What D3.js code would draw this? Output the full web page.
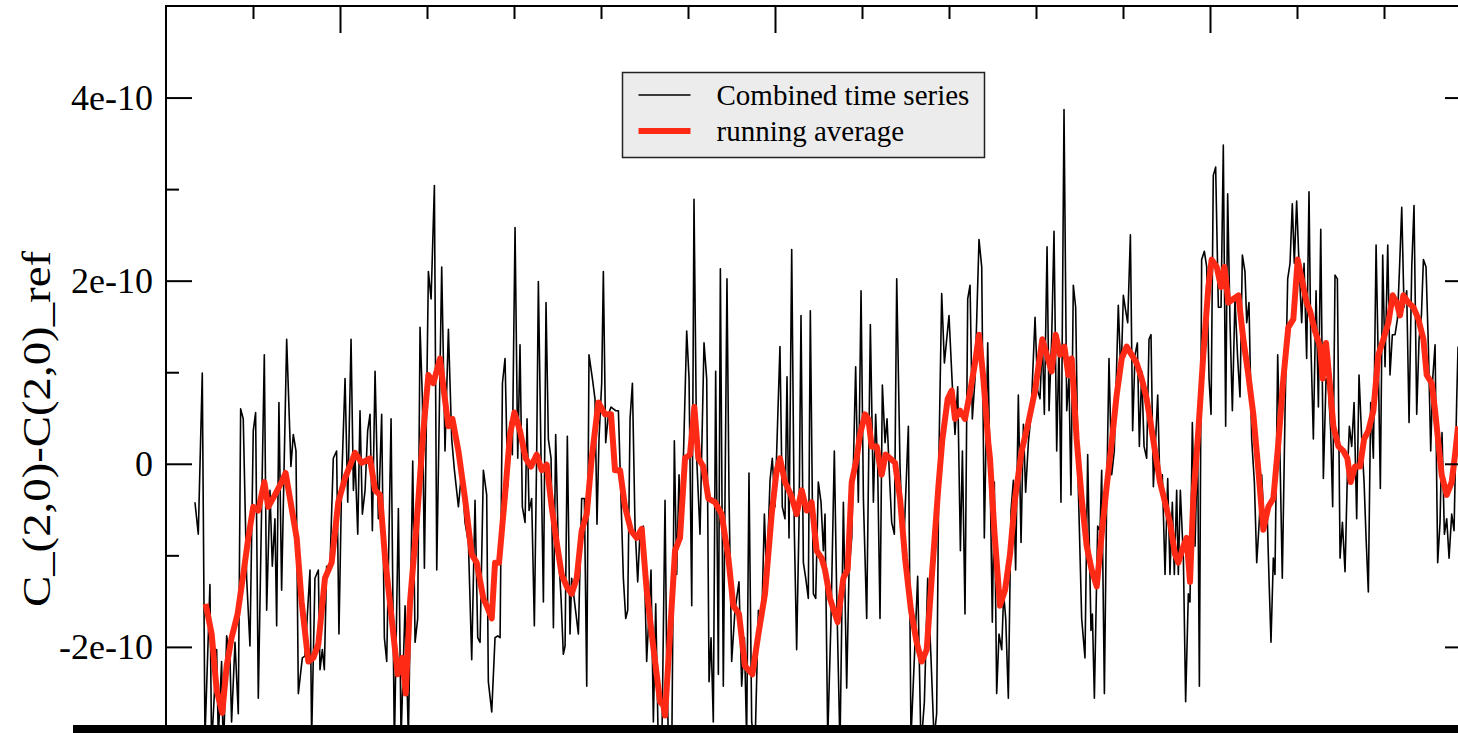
<!DOCTYPE html>
<html>
<head>
<meta charset="utf-8">
<script src="https://cdn.jsdelivr.net/npm/d3@7"></script>
<style>
  html, body { margin: 0; padding: 0; background: #fff; overflow: hidden; }
  svg { display: block; }
</style>
</head>
<body>
<svg id="chart"></svg>
<script>
const width = 1458, height = 733;
const unit = 1e-10; // values below are in units of 1e-10

// combined time series (decimal year, value)
const combinedTime = [
  1998.333, 1998.371, 1998.417, 1998.448, 1998.505, 1998.524, 1998.582, 1998.601, 1998.639, 1998.659,
  1998.697, 1998.735, 1998.754, 1998.793, 1998.831, 1998.858, 1998.888, 1998.927, 1998.965, 1999.003,
  1999.030, 1999.061, 1999.130, 1999.157, 1999.195, 1999.222, 1999.252, 1999.272, 1999.298, 1999.329,
  1999.387, 1999.436, 1999.463, 1999.494, 1999.521, 1999.567, 1999.597, 1999.655, 1999.674, 1999.712,
  1999.751, 1999.770, 1999.797, 1999.820, 1999.846, 1999.885, 1999.923, 1999.961, 1999.988, 2000.019,
  2000.058, 2000.089, 2000.127, 2000.154, 2000.173, 2000.204, 2000.230, 2000.257, 2000.288, 2000.318,
  2000.345, 2000.372, 2000.403, 2000.441, 2000.479, 2000.510, 2000.537, 2000.587, 2000.625, 2000.671,
  2000.702, 2000.748, 2000.786, 2000.836, 2000.863, 2000.893, 2000.920, 2000.947, 2000.970, 2001.016,
  2001.047, 2001.085, 2001.112, 2001.169, 2001.207, 2001.246, 2001.284, 2001.315, 2001.361, 2001.399,
  2001.437, 2001.476, 2001.514, 2001.552, 2001.583, 2001.610, 2001.648, 2001.686, 2001.705, 2001.744,
  2001.782, 2001.813, 2001.840, 2001.867,
  2001.897, 2001.928, 2001.954, 2001.981, 2002.012, 2002.043, 2002.069, 2002.096, 2002.127, 2002.150,
  2002.173, 2002.203, 2002.234, 2002.261, 2002.280, 2002.311, 2002.338, 2002.368, 2002.395, 2002.426,
  2002.453, 2002.479, 2002.510, 2002.541, 2002.567, 2002.587, 2002.613, 2002.644, 2002.663, 2002.701,
  2002.740, 2002.778, 2002.809, 2002.836, 2002.862, 2002.901, 2002.931, 2002.954, 2002.977, 2003.008,
  2003.027, 2003.054, 2003.085, 2003.115, 2003.142, 2003.169, 2003.200, 2003.230, 2003.257, 2003.284,
  2003.307, 2003.334, 2003.361, 2003.391, 2003.422, 2003.449, 2003.487, 2003.525, 2003.575, 2003.602,
  2003.629, 2003.659, 2003.698,
  2003.736, 2003.755, 2003.774, 2003.813, 2003.843, 2003.870, 2003.897, 2003.920, 2003.947, 2003.985,
  2004.012, 2004.043, 2004.069, 2004.100, 2004.138, 2004.184, 2004.215, 2004.242, 2004.265, 2004.291,
  2004.318, 2004.349, 2004.372, 2004.406, 2004.448, 2004.472, 2004.502, 2004.540, 2004.586, 2004.617,
  2004.648, 2004.674, 2004.701, 2004.732, 2004.770, 2004.809, 2004.847, 2004.878, 2004.904, 2004.943,
  2004.969, 2005.000, 2005.031, 2005.057, 2005.084, 2005.115, 2005.138, 2005.161, 2005.192, 2005.222,
  2005.249, 2005.276, 2005.299, 2005.326, 2005.353, 2005.383, 2005.406, 2005.441, 2005.468, 2005.498,
  2005.529, 2005.556,
  2005.575, 2005.606, 2005.644, 2005.682, 2005.709, 2005.747, 2005.786, 2005.824, 2005.851, 2005.882,
  2005.927, 2005.958, 2005.989, 2006.016, 2006.054, 2006.096, 2006.131, 2006.157, 2006.180, 2006.207,
  2006.234, 2006.265, 2006.288, 2006.311, 2006.341, 2006.372, 2006.399, 2006.437, 2006.475, 2006.533,
  2006.563, 2006.602, 2006.640, 2006.678, 2006.717, 2006.755, 2006.793, 2006.828, 2006.858, 2006.885,
  2006.916, 2006.947, 2007.000, 2007.039, 2007.069, 2007.100, 2007.131, 2007.154, 2007.184, 2007.215,
  2007.242, 2007.268, 2007.299, 2007.345, 2007.376, 2007.406,
  2007.445, 2007.471, 2007.498, 2007.521, 2007.548, 2007.575, 2007.606, 2007.628, 2007.652, 2007.682,
  2007.713, 2007.740, 2007.766, 2007.797, 2007.828, 2007.855, 2007.881, 2007.912, 2007.943, 2007.989,
  2008.019, 2008.046, 2008.073, 2008.096, 2008.127, 2008.150, 2008.180, 2008.207, 2008.238, 2008.264,
  2008.287, 2008.322, 2008.353, 2008.379, 2008.402, 2008.429, 2008.456, 2008.487, 2008.525, 2008.563,
  2008.594, 2008.632, 2008.648, 2008.671, 2008.709, 2008.736, 2008.755, 2008.786, 2008.812, 2008.839,
  2008.870, 2008.900, 2008.946, 2008.977, 2009.004, 2009.031, 2009.054, 2009.085, 2009.111, 2009.138,
  2009.165, 2009.188, 2009.215, 2009.242, 2009.272, 2009.299,
  2009.322, 2009.349, 2009.399, 2009.425, 2009.452, 2009.483, 2009.514, 2009.540, 2009.567, 2009.590,
  2009.617, 2009.636, 2009.659, 2009.694, 2009.720, 2009.751, 2009.770, 2009.797, 2009.828, 2009.858,
  2009.878, 2009.904, 2009.935, 2009.962, 2009.989, 2010.012, 2010.038, 2010.065, 2010.096, 2010.127,
  2010.153, 2010.180, 2010.203, 2010.230, 2010.257, 2010.287, 2010.318, 2010.345, 2010.372, 2010.402,
  2010.422, 2010.448, 2010.479, 2010.510, 2010.537, 2010.563, 2010.594, 2010.625, 2010.655, 2010.678,
  2010.701, 2010.728, 2010.747, 2010.778, 2010.805, 2010.831, 2010.862, 2010.893, 2010.920, 2010.946,
  2010.969, 2010.996, 2011.023, 2011.054, 2011.081, 2011.111, 2011.138,
  2011.158, 2011.188, 2011.219, 2011.246, 2011.273, 2011.303, 2011.334, 2011.361, 2011.387, 2011.410,
  2011.437, 2011.464, 2011.495, 2011.522, 2011.552, 2011.579, 2011.602, 2011.629, 2011.656, 2011.686,
  2011.713, 2011.744, 2011.771, 2011.794, 2011.820, 2011.847, 2011.878, 2011.909, 2011.935, 2011.958,
  2011.985, 2012.012, 2012.043, 2012.069, 2012.096, 2012.127, 2012.154, 2012.177, 2012.204, 2012.230,
  2012.261, 2012.288, 2012.319, 2012.345, 2012.376, 2012.403, 2012.430, 2012.453, 2012.483, 2012.510,
  2012.537, 2012.560, 2012.587, 2012.617, 2012.644, 2012.667, 2012.694, 2012.721, 2012.748, 2012.778,
  2012.805, 2012.836, 2012.851
];
const combinedValue = [
  -0.42, -0.77, 0.99, -3.0, -1.32, -3.1, -2.03, -3.0, -2.16, -3.2,
  -1.88, -2.12, -2.82, -1.95, -2.73, 0.60, 0.49, -1.25, -1.99, 0.36,
  0.56, -2.56, 1.19, -1.60, -0.29, -1.12, -0.60, -1.77, 0.67, -1.38,
  1.36, -0.03, 0.32, 0.14, -2.51, -2.12, -2.10, -1.16, -3.0, -1.25,
  -1.16, -2.25, -2.03, -2.25, -1.12, -1.12, 0.06, 0.14, -1.86, -0.20,
  0.93, -0.42, 1.36, -0.29, 0.06, -0.77, 0.58, -0.55, -0.29, 0.36,
  0.54, -0.73, 1.01, -0.60, 0.54, -1.90, -2.16, 0.49, -3.1, -0.49,
  -3.0, -1.55, -3.0, 0.03, -1.95, -1.69, 1.49, 0.71, -1.14, 2.10,
  1.80, 3.04, -1.16, 2.15, 0.14, 1.47, 0.27, -0.07, -0.47, -0.07,
  -0.64, -0.86, -2.14, -0.40, -1.90, -1.95, -0.07, -0.34, -2.38, -2.71,
  -1.90, -1.88, -1.90, 0.88,
  1.15, -0.25, 0.45, 0.10, 2.58, 0.06, 1.30, -0.47, -0.64, 0.49,
  -0.51, -0.38, -1.77, 0.14, 1.99, 0.06, -1.51, 1.76, 0.27, 0.06,
  -1.79, 0.32, -0.95, -1.47, -2.08, -1.99, 0.30, -1.86, -1.25, -1.55,
  -1.86, -0.38, -0.38, -2.43, 1.19, 0.93, 0.71, -0.66, 0.27, 0.88,
  2.10, 0.23, 0.54, 0.62, 0.60, 0.58, 0.58, -0.38, -1.25, -1.69,
  -1.60, 0.49, 0.88, -0.68, -1.29, -0.73, -0.68, -2.16, -1.16, -2.82,
  -1.53, -3.1, -3.2,
  -0.40, -2.12, -3.0, -3.2, 0.25, -1.21, -0.12, -0.81, 0.06, 1.45,
  0.93, -1.55, 2.89, 0.06, -0.77, 1.32, 0.93, -2.38, -1.90, -2.82,
  1.01, -2.30, 2.13, -2.43, 2.02, -0.38, -2.16, -1.60, -1.29, -2.43,
  -1.90, -3.0, -0.10, -2.82, -3.1, -1.60, -1.73, -0.55, -1.25, -0.18,
  0.06, -0.47, 0.49, 1.28, -0.47, -0.60, 0.95, -0.81, 2.34, -0.73,
  -2.03, -0.64, 1.62, -1.08, -1.25, -1.47, 1.67, -1.42, -1.47, -0.20,
  -0.42, -0.95,
  -0.55, -3.0, -1.69, 0.14, -1.42, -3.1, -0.42, -2.45, -1.16, -0.81,
  1.06, -0.42, 1.89, -0.38, -1.69, 1.52, -0.42, 0.54, -0.03, -1.69,
  0.86, 0.23, 0.49, -0.03, -0.64, -0.77, 2.02, -0.03, -1.01, 0.41,
  -3.0, -2.12, -1.23, -3.1, -2.60, -1.25, -2.12, -3.0, -2.73, 0.14,
  1.86, 1.10, 1.62, 0.84, 0.32, 0.84, -0.95, 0.14, -1.64, 1.80,
  1.95, 0.49, 0.93, 2.45, 2.15, -0.81,
  1.32, -0.03, -1.73, -0.20, -2.51, -1.86, -2.03, -1.42, -1.69, -2.56,
  -0.51, -0.18, -1.16, 0.75, -0.86, 0.43, -0.31, 0.23, 0.54, 1.60,
  0.80, 0.71, 1.36, 0.54, 2.37, 0.58, 1.36, 2.54, 0.14, 1.32,
  -0.42, 3.87, 0.58, 0.93, -0.34, 1.95, 1.71, -0.29, -1.69, -2.12,
  0.10, -1.82, -1.64, -2.56, -0.68, -0.73, -0.07, -2.51, -0.38, 1.15,
  -0.12, 0.14, 1.73, 0.93, 1.84, 1.67, 1.54, 2.50, 0.36, 1.19,
  1.32, 0.19, 1.01, 0.19, 0.06, 1.36,
  1.41, -0.25, 0.75, -0.25, -0.12, -1.21, -0.16, -1.21, -0.42, -1.21,
  -0.29, -1.21, -0.29, -1.03, -2.60, -1.42, -1.51, 0.45, -0.90, 0.23,
  -2.43, 2.23, 2.32, 2.15, 0.93, 0.54, 3.15, 3.24, 1.71, 1.71,
  3.48, 0.41, 2.95, 1.54, 0.58, 1.80, 1.15, 0.73, 2.28, 2.10,
  1.54, 1.76, 0.27, -0.20, -1.08, -0.68, -0.12, -0.73, -0.47, -1.25,
  -1.95, -1.03, -1.21, 1.19, 0.06, -1.25, 0.54, 2.02, 2.19, 2.84,
  2.19, 2.87, 2.19, 1.54, 2.19, 1.15, 2.97,
  1.36, 0.27, 1.89, 0.62, 2.56, -0.16, 0.93, 0.84, 0.36, -0.47,
  2.06, 2.02, -1.03, -0.64, -1.18, -0.12, 0.41, 0.19, 0.67, -0.60,
  0.97, 0.27, -0.20, -0.81, -1.40, 0.67, 0.06, 2.39, 1.06, -0.27,
  2.28, 1.06, 2.39, 0.97, 1.41, 1.41, 1.58, 2.10, 2.80, 1.71,
  1.89, 0.45, 2.15, 2.82, 0.54, 1.36, 1.62, 2.23, 2.15, 1.28,
  0.14, 0.93, 1.30, -1.08, -0.64, 0.34, -0.77, -0.60, -1.03, -0.55,
  -0.73, 0.71, 1.28
];

// running average (decimal year, value)
const averageTime = [
  1998.456, 1998.525, 1998.582, 1998.647, 1998.697, 1998.754, 1998.823, 1998.888, 1998.946, 1999.003,
  1999.061, 1999.130, 1999.176, 1999.252, 1999.329, 1999.375, 1999.425, 1999.502, 1999.559, 1999.636,
  1999.693, 1999.751, 1999.827, 1999.904, 1999.980, 2000.057,
  2000.173, 2000.250, 2000.345, 2000.403, 2000.460, 2000.518, 2000.594, 2000.663, 2000.717, 2000.755,
  2000.805, 2000.882, 2000.958, 2001.016, 2001.073, 2001.150, 2001.188, 2001.246, 2001.292, 2001.361,
  2001.437, 2001.514, 2001.571, 2001.648, 2001.686, 2001.744, 2001.782, 2001.828, 2001.897,
  2001.954, 2002.004, 2002.069, 2002.134, 2002.196, 2002.261, 2002.318, 2002.376, 2002.433, 2002.491,
  2002.548, 2002.606, 2002.663, 2002.721, 2002.778, 2002.836, 2002.893, 2002.970, 2003.046, 2003.115,
  2003.161, 2003.219, 2003.276, 2003.345, 2003.410, 2003.468, 2003.525, 2003.583, 2003.640, 2003.679,
  2003.717,
  2003.736, 2003.793, 2003.851, 2003.908, 2003.966, 2004.023, 2004.073, 2004.119, 2004.176, 2004.234,
  2004.310, 2004.387, 2004.464, 2004.521, 2004.586, 2004.655, 2004.740, 2004.809, 2004.885, 2004.962,
  2005.019, 2005.057, 2005.115, 2005.184, 2005.249, 2005.307, 2005.364, 2005.421, 2005.479, 2005.536,
  2005.575, 2005.632, 2005.720, 2005.786, 2005.835, 2005.882, 2005.939, 2005.977, 2006.035, 2006.073,
  2006.111, 2006.169, 2006.226, 2006.272, 2006.322, 2006.380, 2006.437, 2006.495, 2006.563, 2006.628,
  2006.686, 2006.744, 2006.801, 2006.878, 2006.924, 2006.985, 2007.031, 2007.069, 2007.127, 2007.184,
  2007.253, 2007.299, 2007.345, 2007.395, 2007.452,
  2007.471, 2007.521, 2007.586, 2007.644, 2007.701, 2007.759, 2007.835, 2007.912, 2007.989, 2008.073,
  2008.123, 2008.180, 2008.226, 2008.276, 2008.326, 2008.372, 2008.410, 2008.467, 2008.525, 2008.583,
  2008.640, 2008.698, 2008.755, 2008.812, 2008.870, 2008.927, 2008.985, 2009.042, 2009.100, 2009.157,
  2009.215, 2009.272,
  2009.310, 2009.368, 2009.425, 2009.483, 2009.540, 2009.598, 2009.636, 2009.694, 2009.732, 2009.770,
  2009.808, 2009.866, 2009.923, 2009.981, 2010.019, 2010.077, 2010.127, 2010.165, 2010.211, 2010.268,
  2010.326, 2010.383, 2010.441, 2010.498, 2010.556, 2010.613, 2010.671, 2010.728, 2010.786, 2010.843,
  2010.900, 2010.958, 2011.008, 2011.054, 2011.111,
  2011.150, 2011.207, 2011.265, 2011.295, 2011.334, 2011.380, 2011.418, 2011.476, 2011.533, 2011.579,
  2011.617, 2011.667, 2011.725, 2011.771, 2011.820, 2011.878, 2011.935, 2011.993, 2012.050, 2012.100,
  2012.146, 2012.184, 2012.223, 2012.280, 2012.338, 2012.395, 2012.453, 2012.491, 2012.548, 2012.587,
  2012.625, 2012.663, 2012.721, 2012.778, 2012.817, 2012.851
];
const averageValue = [
  -1.53, -1.86, -2.47, -2.72, -2.21, -1.90, -1.64, -1.21, -0.81, -0.47,
  -0.51, -0.20, -0.47, -0.34, -0.20, -0.10, -0.38, -0.81, -1.51, -2.16,
  -2.12, -1.97, -1.25, -1.08, -0.42, -0.16,
  0.12, 0.01, 0.06, -0.29, -0.34, -1.03, -1.69, -2.30, -2.12, -2.51,
  -1.51, -0.64, 0.36, 0.97, 0.88, 1.15, 0.84, 0.41, 0.49, 0.14,
  -0.38, -0.99, -1.08, -1.47, -1.55, -1.69, -1.08, -1.08, -0.34,
  0.32, 0.56, 0.36, 0.06, -0.03, 0.10, -0.07, -0.01, -0.47, -0.86,
  -1.21, -1.34, -1.42, -1.25, -0.73, -0.55, 0.06, 0.67, 0.54, 0.54,
  -0.07, -0.07, -0.47, -0.73, -0.81, -0.71, -1.38, -1.86, -2.30, -2.60,
  -2.64,
  -2.75, -1.86, -0.95, -0.81, 0.06, 0.10, 0.62, 0.06, -0.03, -0.38,
  -0.42, -0.55, -1.03, -1.55, -1.64, -2.21, -2.30, -1.86, -1.42, -0.55,
  -0.07, 0.06, -0.20, -0.34, -0.55, -0.29, -0.51, -0.42, -0.95, -1.03,
  -1.16, -1.47, -1.73, -1.25, -1.16, -0.20, 0.06, 0.32, 0.54, 0.49,
  0.19, 0.19, -0.12, 0.10, 0.06, 0.01, -0.38, -1.03, -1.60, -1.95,
  -2.16, -2.03, -1.25, -0.25, 0.27, 0.71, 0.80, 0.49, 0.58, 0.49,
  0.84, 1.10, 1.41, 0.93, 0.23,
  0.06, -0.73, -1.55, -1.38, -0.99, -0.38, 0.14, 0.45, 0.80, 1.36,
  1.19, 1.01, 1.41, 1.19, 1.28, 0.97, 1.15, 0.27, -0.38, -0.90,
  -1.16, -1.34, -0.77, -0.25, 0.23, 0.75, 1.15, 1.28, 1.19, 1.10,
  0.93, 0.71,
  0.49, 0.14, -0.20, -0.42, -0.64, -0.99, -1.08, -0.90, -0.81, -1.29,
  -0.38, 0.36, 1.19, 1.93, 2.23, 2.15, 1.93, 2.15, 1.76, 1.80,
  1.84, 1.36, 0.97, 0.54, -0.07, -0.72, -0.47, -0.38, 0.23, 0.93,
  1.49, 1.58, 2.23, 2.02, 1.76,
  1.67, 1.45, 1.28, 0.93, 1.32, 0.84, 0.41, 0.19, 0.14, 0.06,
  -0.20, -0.03, -0.03, 0.27, 0.36, 0.58, 1.19, 1.36, 1.54, 1.84,
  1.76, 1.62, 1.84, 1.76, 1.71, 1.58, 1.36, 0.97, 0.88, 0.58,
  0.23, -0.12, -0.34, -0.20, 0.10, 0.41
];

// axis ticks (the -4e-10 tick sits below the visible window, so it is left out)
const yMajorTicks = [-2, 0, 2, 4];
const yTickLabels = ["-2e-10", "0", "2e-10", "4e-10"];
const yMinorTicks = [-3, -1, 1, 3];
const xMajorTicks = [2000, 2005, 2010];
const xMinorTicks = [1999, 2001, 2002, 2003, 2004, 2006, 2007, 2008, 2009, 2011, 2012];

const legendLabels = ["Combined time series", "running average"];
const yTitle = "C_(2,0)-C(2,0)_ref";

// plot frame (bottom part runs below the visible window)
const plot = { left: 166, top: 6, right: 1471, bottom: 830 };
const font = "'Liberation Serif', 'Times New Roman', serif";

const svg = d3.select("#chart")
    .attr("width", width)
    .attr("height", height);

const x = d3.scaleLinear().domain([1998, 2013]).range([plot.left, plot.right]);
const y = d3.scaleLinear().domain([-4 * unit, 5 * unit]).range([plot.bottom, plot.top]);

svg.append("defs").append("clipPath").attr("id", "plotClip")
  .append("rect")
    .attr("x", plot.left).attr("y", plot.top)
    .attr("width", plot.right - plot.left).attr("height", plot.bottom - plot.top);

const combined = combinedTime.map((t, i) => ({ t, v: combinedValue[i] * unit }));
const average = averageTime.map((t, i) => ({ t, v: averageValue[i] * unit }));

const line = d3.line().x(d => x(d.t)).y(d => y(d.v));

const lines = svg.append("g").attr("clip-path", "url(#plotClip)");

lines.append("path")
    .datum(combined)
    .attr("d", line)
    .attr("fill", "none")
    .attr("stroke", "#000")
    .attr("stroke-width", 1.6)
    .attr("stroke-linejoin", "round");

lines.append("path")
    .datum(average)
    .attr("d", line)
    .attr("fill", "none")
    .attr("stroke", "#ff2a16")
    .attr("stroke-width", 6)
    .attr("stroke-linejoin", "round");

// axes: all ticks point into the plot
function styleAxis(g) {
  g.select(".domain").remove();
  g.selectAll(".tick line").attr("stroke", "#000").attr("stroke-width", 2);
  g.selectAll(".tick text")
    .attr("fill", "#000")
    .style("font-family", font)
    .style("font-size", "36px");
}

svg.append("g")
    .attr("transform", `translate(${plot.left},0)`)
    .call(d3.axisLeft(y)
      .tickValues(yMajorTicks.map(d => d * unit))
      .tickSize(-26).tickPadding(13)
      .tickFormat((d, i) => yTickLabels[i]))
    .call(styleAxis);

svg.append("g")
    .attr("transform", `translate(${plot.left},0)`)
    .call(d3.axisLeft(y)
      .tickValues(yMinorTicks.map(d => d * unit))
      .tickSize(-13).tickFormat(""))
    .call(styleAxis);

svg.append("g")
    .attr("transform", `translate(${plot.right},0)`)
    .call(d3.axisRight(y)
      .tickValues(yMajorTicks.map(d => d * unit))
      .tickSize(-26).tickFormat(""))
    .call(styleAxis);

svg.append("g")
    .attr("transform", `translate(${plot.right},0)`)
    .call(d3.axisRight(y)
      .tickValues(yMinorTicks.map(d => d * unit))
      .tickSize(-13).tickFormat(""))
    .call(styleAxis);

svg.append("g")
    .attr("transform", `translate(0,${plot.top})`)
    .call(d3.axisTop(x).tickValues(xMajorTicks).tickSize(-27).tickFormat(""))
    .call(styleAxis);

svg.append("g")
    .attr("transform", `translate(0,${plot.top})`)
    .call(d3.axisTop(x).tickValues(xMinorTicks).tickSize(-13).tickFormat(""))
    .call(styleAxis);

svg.append("rect")
    .attr("x", plot.left).attr("y", plot.top)
    .attr("width", plot.right - plot.left).attr("height", plot.bottom - plot.top)
    .attr("fill", "none")
    .attr("stroke", "#000")
    .attr("stroke-width", 2);

// y axis title, stretched along its length like the original
svg.append("text")
    .attr("transform", "translate(50,429) rotate(-90)")
    .attr("text-anchor", "middle")
    .attr("textLength", 356)
    .attr("lengthAdjust", "spacingAndGlyphs")
    .style("font-family", font)
    .style("font-size", "40px")
    .text(yTitle);

// legend
const legend = svg.append("g").attr("transform", "translate(622.5,72.5)");
legend.append("rect")
    .attr("width", 362).attr("height", 85)
    .attr("fill", "#ececec")
    .attr("stroke", "#222")
    .attr("stroke-width", 1.5);

const legendStyles = [
  { color: "#000", width: 1.6 },
  { color: "#ff2a16", width: 6 }
];
legendLabels.forEach((label, i) => {
  const ly = 22.5 + i * 36;
  legend.append("line")
      .attr("x1", 16).attr("x2", 68)
      .attr("y1", ly).attr("y2", ly)
      .attr("stroke", legendStyles[i].color)
      .attr("stroke-width", legendStyles[i].width);
  legend.append("text")
      .attr("x", 94).attr("y", ly + 10)
      .style("font-family", font)
      .style("font-size", "29px")
      .text(label);
});

// heavy black strip along the bottom edge of the picture
svg.append("rect")
    .attr("x", 73).attr("y", 725)
    .attr("width", width - 73).attr("height", height - 725)
    .attr("fill", "#000");
</script>
</body>
</html>
